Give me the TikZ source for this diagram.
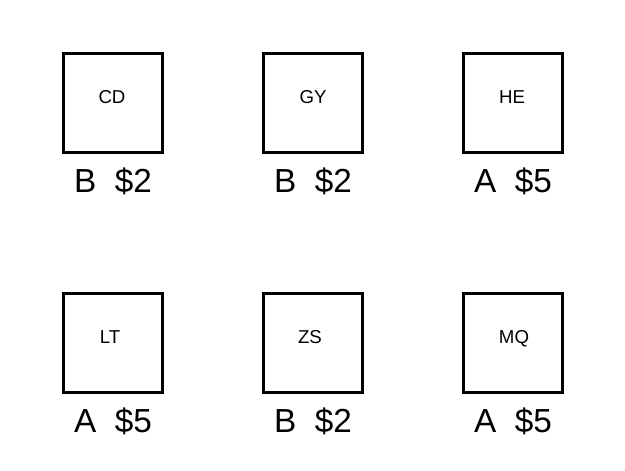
\documentclass[tikz,border=0pt]{standalone}
\usepackage{fontspec}
\setmainfont{Liberation Sans}
\begin{document}
\begin{tikzpicture}[x=0.75pt,y=-0.75pt,
  boxst/.style={draw=black,line width=2pt,minimum width=74.5pt,minimum height=74.5pt,inner sep=0pt},
  codest/.style={font=\fontsize{14}{16}\selectfont,inner sep=0pt,anchor=base},
  pricest/.style={font=\fontsize{25}{28}\selectfont,inner sep=0pt,anchor=base}]
\useasboundingbox (0,0) rectangle (625,471);
% top row
\node[boxst] (b1) at (113,103) {};
\node[boxst] (b2) at (313,103) {};
\node[boxst] (b3) at (513,103) {};
\node[codest] (t1) at (112,103) {CD};
\node[codest] (t2) at (313,103) {GY};
\node[codest] (t3) at (512,103) {HE};
\node[pricest] (p1) at (113,192) {B\ \ \$2};
\node[pricest] (p2) at (313,192) {B\ \ \$2};
\node[pricest] (p3) at (513,192) {A\ \ \$5};
% bottom row
\node[boxst] (b4) at (113,343) {};
\node[boxst] (b5) at (313,343) {};
\node[boxst] (b6) at (513,343) {};
\node[codest] (t4) at (110,343) {LT};
\node[codest] (t5) at (310,343) {ZS};
\node[codest] (t6) at (514,343) {MQ};
\node[pricest] (p4) at (113,432) {A\ \ \$5};
\node[pricest] (p5) at (313,432) {B\ \ \$2};
\node[pricest] (p6) at (513,432) {A\ \ \$5};
\end{tikzpicture}
\end{document}
